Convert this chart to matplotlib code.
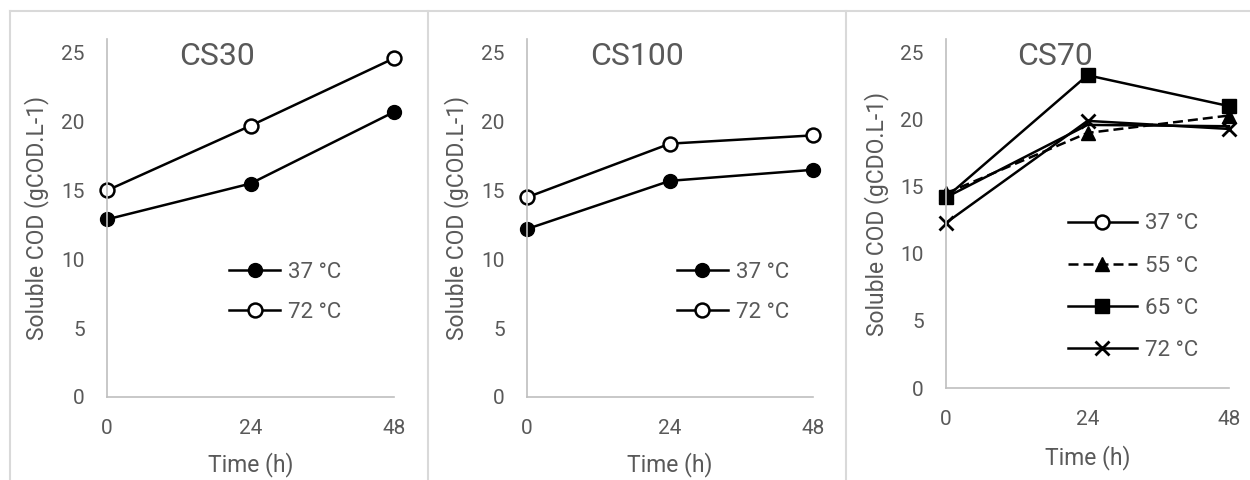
import matplotlib
matplotlib.use('Agg')
import matplotlib.pyplot as plt
from matplotlib.lines import Line2D

plt.rcParams['font.family'] = ['Roboto', 'DejaVu Sans']

time_h = [0, 24, 48]
y_ticks = [0, 5, 10, 15, 20, 25]

cs30_37 = [12.9, 15.5, 20.7]
cs30_72 = [15.0, 19.7, 24.6]

cs100_37 = [12.2, 15.7, 16.5]
cs100_72 = [14.5, 18.4, 19.0]

cs70_37 = [14.2, 19.6, 19.5]
cs70_55 = [14.5, 19.0, 20.3]
cs70_65 = [14.2, 23.3, 21.0]
cs70_72 = [12.3, 19.9, 19.3]

GREY = '#595959'
AXIS = '#bfbfbf'
LW = 1.8
FS = 15
LFS = 16.5

fig = plt.figure(figsize=(12.5, 4.8), dpi=100)

# panel frames
frame = '#d9d9d9'
fig.add_artist(Line2D([10/1250, 1.0], [1-11/480]*2, color=frame, lw=1.5,
                      transform=fig.transFigure))
for xp in [10, 428, 846]:
    fig.add_artist(Line2D([xp/1250]*2, [0, 1-11/480], color=frame, lw=1.5,
                          transform=fig.transFigure))


def setup(ax, title, ylabel):
    ax.set_xlim(0, 48)
    ax.set_ylim(0, 26)
    ax.set_xticks(time_h)
    ax.set_yticks(y_ticks)
    for s in ['top', 'right']:
        ax.spines[s].set_visible(False)
    for s in ['left', 'bottom']:
        ax.spines[s].set_color(AXIS)
        ax.spines[s].set_linewidth(1.2)
    ax.tick_params(length=0, labelsize=FS, colors=GREY, pad=16)
    ax.set_xlabel('Time (h)', fontsize=LFS, color=GREY, va='center')
    ax.set_ylabel(ylabel, fontsize=LFS, color=GREY, va='center')
    ax.text(0.385, 0.95, title, transform=ax.transAxes, fontsize=23,
            color=GREY, ha='center', va='center')


def legend(ax, handles, labels, x, y, hl, sp):
    leg = ax.legend(handles, labels, loc='center left', bbox_to_anchor=(x, y),
                    frameon=False, borderpad=0, borderaxespad=0,
                    handlelength=hl, handletextpad=0.35, labelspacing=sp,
                    fontsize=16, labelcolor=GREY)
    return leg


filled = dict(color='k', lw=LW, marker='o', ms=10, mfc='k', mec='k',
              clip_on=False)
hollow = dict(color='k', lw=LW, marker='o', ms=10, mfc='white', mec='k',
              mew=1.8, clip_on=False)

# CS30
ax1 = fig.add_axes([107/1250, 1-397/480, 287/1250, 358/480])
setup(ax1, 'CS30', 'Soluble COD (gCOD.L-1)')
h1, = ax1.plot(time_h, cs30_37, **filled)
h2, = ax1.plot(time_h, cs30_72, **hollow)
ax1.xaxis.set_label_coords(0.5, -0.19)
ax1.yaxis.set_label_coords(-0.244, 0.5)
legend(ax1, [h1, h2], ['37 °C', '72 °C'], 0.425, 0.293, 2.3, 0.85)

# CS100
ax2 = fig.add_axes([527/1250, 1-397/480, 286/1250, 358/480])
setup(ax2, 'CS100', 'Soluble COD (gCOD.L-1)')
h1, = ax2.plot(time_h, cs100_37, **filled)
h2, = ax2.plot(time_h, cs100_72, **hollow)
ax2.xaxis.set_label_coords(0.5, -0.19)
ax2.yaxis.set_label_coords(-0.246, 0.5)
legend(ax2, [h1, h2], ['37 °C', '72 °C'], 0.524, 0.293, 2.3, 0.85)

# CS70
ax3 = fig.add_axes([946/1250, 1-388/480, 283/1250, 349/480])
setup(ax3, 'CS70', 'Soluble COD (gCDO.L-1)')
ax3.plot(time_h, cs70_37, color='k', lw=LW, clip_on=False)
h37 = Line2D([], [], color='k', lw=LW, marker='o', ms=10, mfc='white',
             mec='k', mew=1.8)
h55, = ax3.plot(time_h, cs70_55, color='k', lw=LW, ls=(0, (4, 2)),
                marker='^', ms=10, mfc='k', mec='k', clip_on=False)
h72, = ax3.plot(time_h, cs70_72, color='k', lw=LW, marker='x', ms=10,
                mew=2, clip_on=False)
h65, = ax3.plot(time_h, cs70_65, color='k', lw=LW, marker='s', ms=10.5,
                mfc='k', mec='k', clip_on=False)
ax3.xaxis.set_label_coords(0.5, -0.2)
ax3.yaxis.set_label_coords(-0.244, 0.5)
legend(ax3, [h37, h55, h65, h72], ['37 °C', '55 °C', '65 °C', '72 °C'],
       0.431, 0.289, 3.1, 0.95)

plt.savefig('out.png', dpi=100)
